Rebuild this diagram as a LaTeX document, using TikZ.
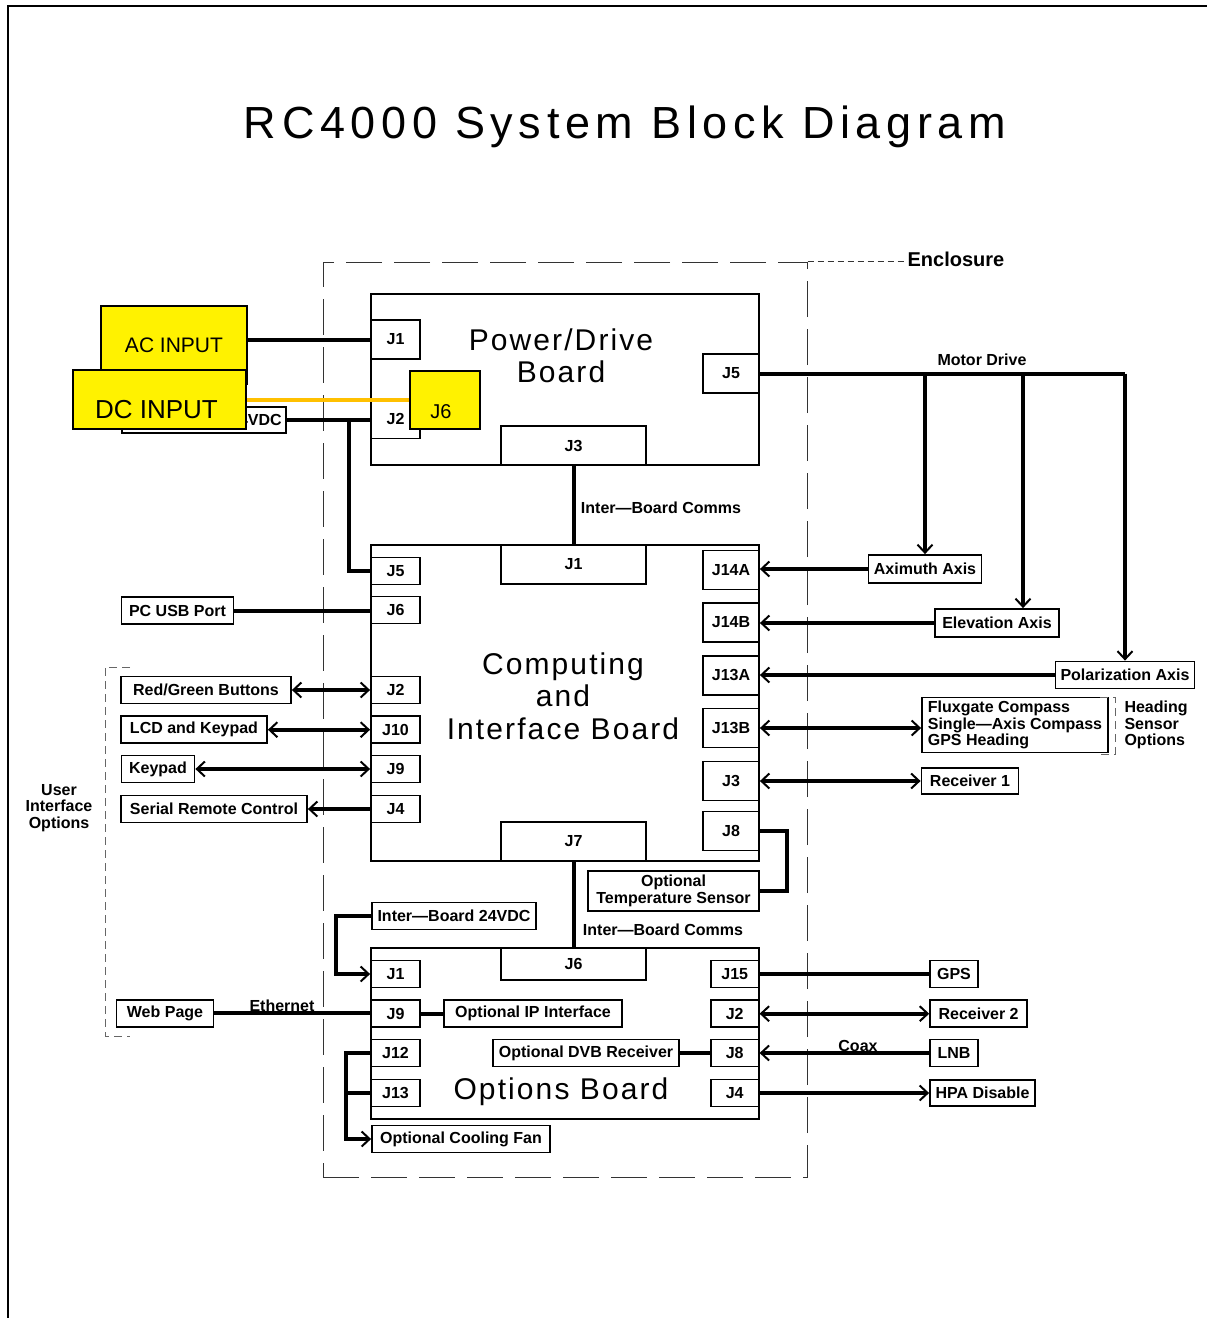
\documentclass[tikz,border=0pt]{standalone}
\usepackage{fontspec}
\setmainfont{Liberation Sans}
\newfontfamily\titleface[LetterSpace=12.5]{Liberation Sans}
\newfontfamily\boardface[LetterSpace=7]{Liberation Sans}
\usepackage{xcolor}
\usetikzlibrary{arrows.meta}
\definecolor{amber}{HTML}{FFC000}

\begin{document}
\begin{tikzpicture}[x=1pt, y=-1pt,
  every node/.style={font=\fontsize{16}{16.5}\selectfont\bfseries},
  >={Straight Barb[length=8pt, width=15pt, line width=2pt]},
  board/.style={draw=black, line width=1.8pt, inner sep=0pt},
  btitle/.style={font=\boardface\fontsize{30}{32.5}\selectfont, align=center},
  jack/.style={draw=black, line width=1.8pt, fill=white, inner sep=0pt, minimum width=49pt, minimum height=27pt},
  rjack/.style={jack, minimum width=56pt, minimum height=39pt},
  wjack/.style={jack, minimum width=145pt, minimum height=39pt},
  unit/.style={draw=black, line width=1.8pt, fill=white, inner sep=0pt, minimum height=27pt},
  ybox/.style={draw=black, line width=1.8pt, fill=yellow, inner sep=0pt},
  wire/.style={line width=4pt},
  arr/.style={wire, ->},
  rarr/.style={wire, <-},
  darr/.style={wire, <->},
  encl/.style={draw=black!80, line width=1pt, dash pattern=on 36pt off 12pt},
  optgrp/.style={draw=black!60, line width=1pt, dash pattern=on 8pt off 5pt}
]
\useasboundingbox (0,0) rectangle (1207,1318);
\draw[line width=1.5pt] (1207,6) -- (8,6) -- (8,1318);
\node[font=\titleface\fontsize{45}{45}\selectfont] (title) at (625,127) {RC4000 System Block Diagram};

% enclosure
\node[encl, inner sep=0pt, minimum width=484pt, minimum height=915pt] (encl) at (565,719.5) {};
\node[font=\fontsize{20}{20}\selectfont\bfseries] (enclbl) at (956,259) {Enclosure};
\draw[draw=black!80, line width=1pt, dash pattern=on 6pt off 4pt] (encl.north east) -- (encl.north east -| enclbl.west);

% power/drive board
\node[board, minimum width=388pt, minimum height=171pt] (pwr) at (565,379.5) {};
\node[btitle] (pwrtxt) at (561,356) {Power/Drive\\Board};
\node[jack, minimum height=39pt] (pJ1) at (395.5,339.5) {J1};
\node[jack, minimum height=39pt] (pJ2) at (395.5,419) {J2};
\node[rjack] (pJ5) at (731,373.5) {J5};
\node[wjack] (pJ3) at (573.5,445.5) {J3};
\node[ybox, minimum width=70pt, minimum height=58pt,
  label={[font=\fontsize{20}{20}\selectfont, xshift=-4pt, yshift=-12pt]center:J6}] (pJ6) at (445,400) {};

% inputs
\node[ybox, minimum width=146pt, minimum height=78pt, font=\fontsize{21}{21}\selectfont] (ac) at (174,345) {AC INPUT};
\node[unit, minimum width=164pt, minimum height=26pt, text width=156pt, align=right] (vdc) at (203.7,420) {24VDC};
\node[ybox, minimum width=173pt, minimum height=59pt,
  label={[font=\fontsize{26}{26}\selectfont, xshift=-3pt, yshift=-10pt]center:DC INPUT}] (dc) at (159.5,399.7) {};

% computing and interface board
\node[board, minimum width=388pt, minimum height=316pt] (comp) at (565,703) {};
\node[btitle] (comptxt) at (563,696) {Computing\\and\\Interface Board};
\node[wjack] (cJ1) at (573.5,564.5) {J1};
\node[wjack] (cJ7) at (573.5,841.5) {J7};
\node[jack] (cJ5) at (395.5,571) {J5};
\node[jack] (cJ6) at (395.5,610) {J6};
\node[jack] (cJ2) at (395.5,690) {J2};
\node[jack] (cJ10) at (395.5,729.5) {J10};
\node[jack] (cJ9) at (395.5,769) {J9};
\node[jack] (cJ4) at (395.5,809) {J4};
\node[rjack] (cJ14A) at (731,570) {J14A};
\node[rjack] (cJ14B) at (731,622.5) {J14B};
\node[rjack] (cJ13A) at (731,675.3) {J13A};
\node[rjack] (cJ13B) at (731,728) {J13B};
\node[rjack] (cJ3) at (731,781) {J3};
\node[rjack] (cJ8) at (731,831) {J8};

% options board
\node[board, minimum width=388pt, minimum height=171pt] (opts) at (565,1033.5) {};
\node[btitle] (optstxt) at (561,1092) {Options Board};
\node[wjack, minimum height=32pt] (oJ6) at (573.5,964) {J6};
\node[jack] (oJ1) at (395.5,974) {J1};
\node[jack] (oJ9) at (395.5,1013.7) {J9};
\node[jack] (oJ12) at (395.5,1053) {J12};
\node[jack] (oJ13) at (395.5,1093) {J13};
\node[jack, minimum width=48pt] (oJ15) at (734.7,974) {J15};
\node[jack, minimum width=48pt] (oJ2) at (734.7,1013.7) {J2};
\node[jack, minimum width=48pt] (oJ8) at (734.7,1053) {J8};
\node[jack, minimum width=48pt] (oJ4) at (734.7,1093) {J4};
\node[unit, minimum width=164pt] (ib24) at (454,916) {Inter—Board 24VDC};
\node[unit, minimum width=178pt] (ipif) at (533,1013.7) {Optional IP Interface};
\node[unit, minimum width=186pt] (dvb) at (586,1053) {Optional DVB Receiver};
\node[unit, minimum width=178pt] (fan) at (461,1139) {Optional Cooling Fan};
\node[unit, minimum width=171pt, minimum height=40pt, align=center] (temp) at (673.5,891) {Optional\\Temperature Sensor};

% user interface side
\node[unit, minimum width=112pt] (pcusb) at (177.5,610.5) {PC USB Port};
\node[unit, minimum width=170pt] (rg) at (206,690) {Red/Green Buttons};
\node[unit, minimum width=146pt] (lcd) at (194,729.7) {LCD and Keypad};
\node[unit, minimum width=73pt] (kp) at (158,769) {Keypad};
\node[unit, minimum width=186pt] (srl) at (214,809) {Serial Remote Control};
\node[unit, minimum width=97pt] (web) at (165,1013.3) {Web Page};
\node[align=center] (uio) at (59,808) {User\\Interface\\Options};
\draw[optgrp] (130,667) -- (105,667) -- (105,1036) -- (130,1036);

% antenna side
\node[unit, minimum width=113pt, minimum height=28pt] (azi) at (925,569) {Aximuth Axis};
\node[unit, minimum width=124pt, minimum height=28pt] (elev) at (997,623) {Elevation Axis};
\node[unit, minimum width=139pt] (pol) at (1125,675) {Polarization Axis};
\node[unit, minimum width=186pt, minimum height=55pt, align=left] (head) at (1015,725) {Fluxgate Compass\\Single—Axis Compass\\GPS Heading};
\node[anchor=west, align=left] (headlbl) at (1121,725) {Heading\\Sensor\\Options};
\draw[optgrp] (1100,697) -- (1115,697) -- (1115,754) -- (1100,754);
\node[unit, minimum width=97pt, minimum height=26pt] (rcv1) at (970,781) {Receiver 1};
\node[unit, minimum width=48pt] (gps) at (954,974) {GPS};
\node[unit, minimum width=97pt] (rcv2) at (978.6,1013.5) {Receiver 2};
\node[unit, minimum width=48pt] (lnb) at (954,1053) {LNB};
\node[unit, minimum width=105pt, minimum height=26pt] (hpa) at (982.5,1093) {HPA Disable};

% connector labels
\node (motor) at (982,360) {Motor Drive};
\node (comms1) at (661,508) {Inter—Board Comms};
\node (comms2) at (663,930) {Inter—Board Comms};
\node (ether) at (282,1006) {Ethernet};
\node (coax) at (858,1046) {Coax};

% power wiring
\draw[wire] (ac.east |- pJ1.west) -- (pJ1.west);
\draw[wire, amber] (dc.east |- pJ6.west) -- (pJ6.west);
\draw[wire] (vdc.east) -- (vdc.east -| pJ2.west);
\draw[wire] ([xshift=62pt]vdc.east) |- (cJ5.west);
\draw[wire] (pJ3.south) -- (cJ1.north);
\draw[wire] (cJ7.south) -- (oJ6.north);

% motor drive
\coordinate (elevtop) at ([xshift=26pt]elev.north);
\draw[wire] (pJ5.east) -- (pJ5.east -| pol.north);
\draw[arr] (pJ5.east -| azi.north) -- (azi.north);
\draw[arr] (elevtop |- pJ5.east) -- (elevtop);
\draw[arr] (pJ5.east -| pol.north) -- (pol.north);
\draw[arr] (azi.west) -- (azi.west -| cJ14A.east);
\draw[arr] (elev.west) -- (elev.west -| cJ14B.east);
\draw[arr] (pol.west) -- (pol.west -| cJ13A.east);
\draw[darr] (cJ13B.east) -- (cJ13B.east -| head.west);
\draw[darr] (cJ3.east) -- (cJ3.east -| rcv1.west);
\draw[wire] (cJ8.east) -- ++(27,0) |- (temp.east);

% user interface
\draw[wire] (pcusb.east) -- (pcusb.east -| cJ6.west);
\draw[darr] (rg.east) -- (rg.east -| cJ2.west);
\draw[darr] (lcd.east) -- (lcd.east -| cJ10.west);
\draw[darr] (kp.east) -- (kp.east -| cJ9.west);
\draw[rarr] (srl.east) -- (srl.east -| cJ4.west);
\draw[wire] (web.east) -- (web.east -| oJ9.west);

% options wiring
\draw[wire] (oJ9.east) -- (oJ9.east -| ipif.west);
\draw[arr] (ib24.west) -- ++(-35,0) |- (oJ1.west);
\draw[arr] (oJ12.west) -- ++(-24,0) |- (fan.west);
\draw[wire] (oJ13.west) -- ++(-24,0);
\draw[wire] (dvb.east) -- (dvb.east -| oJ8.west);
\draw[wire] (oJ15.east) -- (oJ15.east -| gps.west);
\draw[darr] (oJ2.east) -- (oJ2.east -| rcv2.west);
\draw[arr] (lnb.west) -- (lnb.west -| oJ8.east);
\draw[arr] (oJ4.east) -- (oJ4.east -| hpa.west);
\end{tikzpicture}
\end{document}
